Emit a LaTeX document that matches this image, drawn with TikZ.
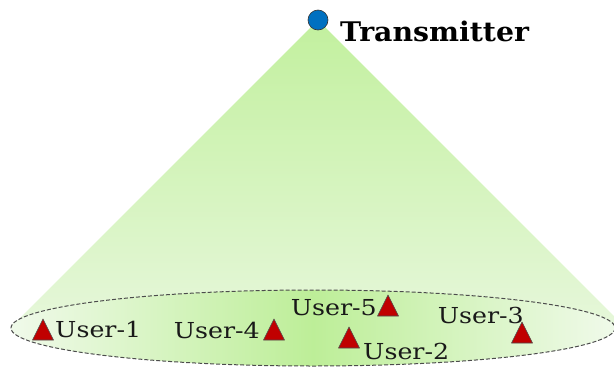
\documentclass[tikz,border=0pt]{standalone}
\usepackage{fontspec}
\newfontfamily\labelfont[FakeStretch=1.15]{DejaVu Serif}
\newfontfamily\titlefont[FakeStretch=1.05]{DejaVu Serif}
\definecolor{beamtop}{HTML}{C2F09E}
\definecolor{beambot}{HTML}{E6F7DA}
\definecolor{areamid}{HTML}{BDEE98}
\definecolor{areaedge}{HTML}{F0FAEA}
\definecolor{userred}{HTML}{C00000}
\definecolor{txblue}{HTML}{0070C0}
\begin{document}
\begin{tikzpicture}[x=1pt,y=-1pt,
  usertri/.pic={\filldraw[fill=userred,draw=black!70,line width=0.6pt,line join=round]
    (-10.5,0) -- (10.5,0) -- (0,-21) -- cycle;},
  ulabel/.style={font=\labelfont\fontsize{22}{25}\selectfont,inner sep=0pt,text=black!90},
]
\useasboundingbox (0,0) rectangle (614,370);
% beam cone from the transmitter to the coverage area
\shade[top color=beamtop,bottom color=beambot] (318,20) -- (12,326) -- (624,326) -- cycle;
% coverage area
\shade[left color=areaedge,right color=areaedge,middle color=areamid]
  (313,328) ellipse [x radius=302,y radius=38];
\draw[black!70,dash pattern=on 4pt off 2pt,line width=1pt]
  (313,328) ellipse [x radius=302,y radius=38];
% transmitter
\node[circle,fill=txblue,draw=black!80,line width=0.6pt,minimum size=20pt,inner sep=0pt] (tx) at (318,20) {};
\node[anchor=west,font=\titlefont\bfseries\fontsize{27}{30}\selectfont,inner sep=0pt] (txl) at (340,31) {Transmitter};
% users
\pic (u1) at (43,340) {usertri};
\pic (u4) at (274,340) {usertri};
\pic (u5) at (388,316) {usertri};
\pic (u2) at (349,348) {usertri};
\pic (u3) at (522,343) {usertri};
\node[ulabel,anchor=west] (l1) at (55,329) {User-1};
\node[ulabel,anchor=east] (l4) at (260,330) {User-4};
\node[ulabel,anchor=east] (l5) at (377,308) {User-5};
\node[ulabel,anchor=west] (l2) at (363,351) {User-2};
\node[ulabel,anchor=east] (l3) at (524,315) {User-3};
\end{tikzpicture}
\end{document}
